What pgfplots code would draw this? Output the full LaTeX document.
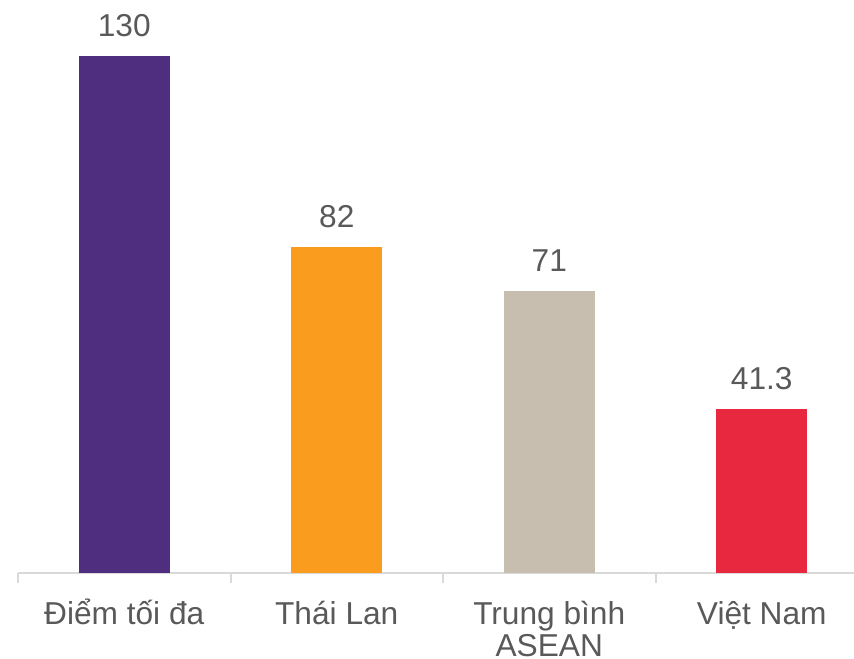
\documentclass[border=0pt]{standalone}
\usepackage{pgfplots}
\pgfplotsset{compat=1.18}
\usepackage{fontspec}
\setmainfont{Liberation Sans}
\definecolor{cpurple}{HTML}{4F2D7F}
\definecolor{corange}{HTML}{FA9C1E}
\definecolor{cbeige}{HTML}{C8BEB0}
\definecolor{cred}{HTML}{E8283F}
\definecolor{ctext}{HTML}{595959}
\definecolor{caxis}{HTML}{D9D9D9}
\begin{document}
\begin{tikzpicture}
\begin{axis}[
  scale only axis,
  width=501.6pt, height=343.6pt,
  xmin=-0.5, xmax=3.434, ymin=0, ymax=144,
  axis x line=bottom, axis y line=none,
  axis line style={caxis, line width=1.2pt, -},
  xtick={0,1,2,3},
  xticklabels={Điểm tối đa, Thái Lan, {\begin{tabular}[t]{@{}c@{}}Trung bình\\ASEAN\end{tabular}}, Việt Nam},
  major x tick style={draw=none},
  minor xtick={-0.5,0.5,1.5,2.5},
  minor x tick style={caxis, line width=1.2pt},
  minor tick length=6pt,
  tick align=outside,
  x tick label style={font=\fontsize{19}{19.6}\selectfont, text=ctext, anchor=base, yshift=-26.4pt},
  ybar, bar width=54.6pt, bar shift=0pt,
  nodes near coords,
  nodes near coords style={font=\fontsize{19}{20}\selectfont, text=ctext, anchor=base, inner sep=0pt, yshift=11.4pt},
  /pgf/number format/assume math mode=true,
  clip=false,
]
\addplot[fill=cpurple, draw=none] coordinates {(0,130)};
\addplot[fill=corange, draw=none] coordinates {(1,82)};
\addplot[fill=cbeige, draw=none] coordinates {(2,71)};
\addplot[fill=cred, draw=none] coordinates {(3,41.3)};
\end{axis}
\pgfresetboundingbox
\path[use as bounding box] (-10.8pt,-51.6pt) rectangle (501.6pt,343.8pt);
\end{tikzpicture}
\end{document}
